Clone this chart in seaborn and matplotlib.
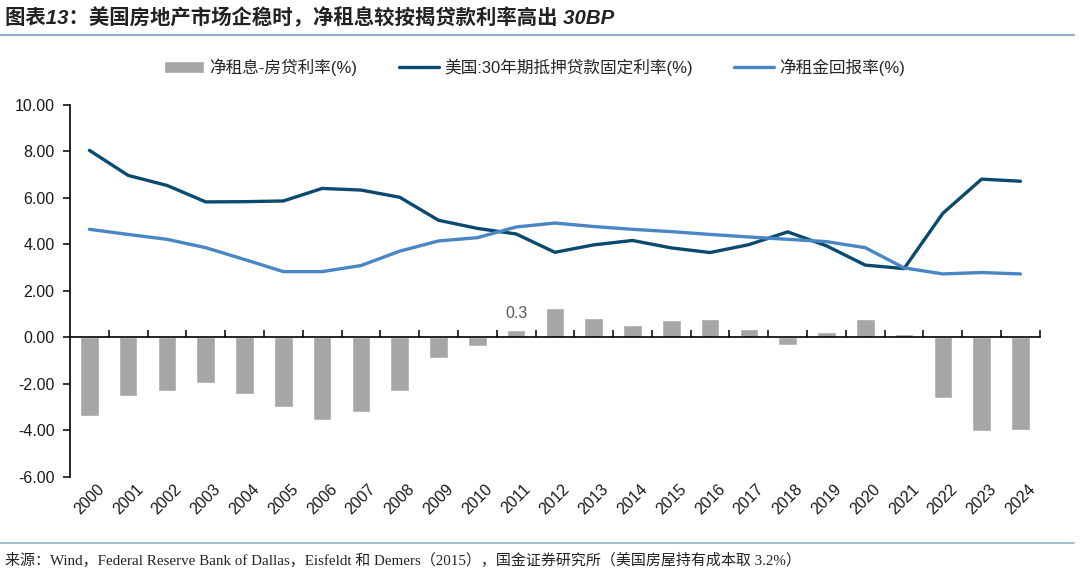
import numpy as np
import pandas as pd
import seaborn as sns
import matplotlib.pyplot as plt
from matplotlib.lines import Line2D
from matplotlib.ticker import FixedLocator, FormatStrFormatter


years = [2000, 2001, 2002, 2003, 2004, 2005, 2006, 2007, 2008, 2009, 2010, 2011, 2012,
         2013, 2014, 2015, 2016, 2017, 2018, 2019, 2020, 2021, 2022, 2023, 2024]

# 净租息-房贷利率(%)
spread = [-3.38, -2.53, -2.33, -1.95, -2.45, -3.00, -3.56, -3.22, -2.29, -0.89, -0.37, 0.30, 1.27,
          0.84, 0.54, 0.76, 0.81, 0.37, -0.34, 0.23, 0.78, 0.13, -2.59, -4.02, -3.98]

# 美国:30年期抵押贷款固定利率(%)
mortgage = [8.05, 6.97, 6.54, 5.83, 5.84, 5.87, 6.41, 6.34, 6.03, 5.04, 4.69, 4.45, 3.66,
            3.98, 4.17, 3.85, 3.65, 3.99, 4.54, 3.94, 3.11, 2.96, 5.34, 6.81, 6.72]

# 净租金回报率(%)
net_yield = [4.65, 4.43, 4.22, 3.86, 3.35, 2.83, 2.83, 3.09, 3.71, 4.15, 4.29, 4.75, 4.92,
             4.77, 4.65, 4.55, 4.43, 4.32, 4.22, 4.12, 3.86, 2.99, 2.73, 2.79, 2.73]

lbl_spread = '净租息-房贷利率(%)'
lbl_mort = '美国:30年期抵押贷款固定利率(%)'
lbl_yield = '净租金回报率(%)'

df = pd.DataFrame({'year': years, 'spread': spread, 'mortgage': mortgage, 'yield': net_yield})

sns.set_style('white')
plt.rcParams['font.family'] = ['Liberation Sans', 'Noto Sans CJK SC', 'DejaVu Sans']
plt.rcParams['axes.unicode_minus'] = False

fig = plt.figure(figsize=(10.8, 5.73), dpi=100)
ax = fig.add_axes([0.0648, 0.168, 0.898, 0.6487])

sns.barplot(data=df, x='year', y='spread', native_scale=True, width=0.48,
            color='#a6a6a6', saturation=1, label=lbl_spread, ax=ax)
sns.lineplot(data=df, x='year', y='mortgage', color='#0b4a6e', lw=2.4,
             label=lbl_mort, ax=ax)
sns.lineplot(data=df, x='year', y='yield', color='#4a86c4', lw=2.4,
             label=lbl_yield, ax=ax)

# label for 2011 bar
i11 = years.index(2011)
ax.annotate(f'{spread[i11]:.1f}', (years[i11], spread[i11]), xytext=(0, 7),
            textcoords='offset points', ha='center', va='bottom',
            fontsize=11.5, color='#595959')

ax.set_xlim(years[0] - 0.5, years[-1] + 0.5)
ax.set_ylim(-6, 10)
ax.set_yticks(np.arange(-6, 10.1, 2))
ax.yaxis.set_major_formatter(FormatStrFormatter('%.2f'))
ax.set_xlabel('')
ax.set_ylabel('')

# x axis line sits on zero, year labels at the bottom
for s in ['top', 'right']:
    ax.spines[s].set_visible(False)
ax.spines['bottom'].set_position(('data', 0))
ax.spines['bottom'].set_color('black')
ax.spines['left'].set_color('black')
ax.spines['bottom'].set_linewidth(1.2)
ax.spines['left'].set_linewidth(1.2)

ax.set_xticks(years)
ax.set_xticklabels([str(y) for y in years], rotation=45, ha='center', va='top')
ax.xaxis.set_minor_locator(FixedLocator([y + 0.5 for y in years]))
ax.tick_params(axis='x', which='major', bottom=True, length=0, pad=104,
               labelsize=11.5, labelcolor='#1a1a1a')
ax.tick_params(axis='x', which='minor', bottom=True, direction='in', length=5,
               width=1.1, color='black')
ax.tick_params(axis='y', which='major', left=True, direction='out', length=5, width=1.1,
               color='black', labelsize=11.5, labelcolor='#1a1a1a', pad=6)
ax.grid(False)

handles, labels = ax.get_legend_handles_labels()
hmap = dict(zip(labels, handles))
order = [lbl_spread, lbl_mort, lbl_yield]
ax.legend([hmap[k] for k in order], order, loc='center', bbox_to_anchor=(0.495, 0.883),
          bbox_transform=fig.transFigure, ncol=3, frameon=False, fontsize=12,
          handlelength=2.4, handletextpad=0.3, columnspacing=2.5)

# title and source
fig.text(0.005, 0.968, '图表13：美国房地产市场企稳时，净租息较按揭贷款利率高出 30BP',
         fontsize=14.7, fontweight='bold', fontstyle='italic', color='#222222',
         ha='left', va='center')
fig.add_artist(Line2D([0, 0.994], [1 - 34.5 / 573] * 2, transform=fig.transFigure,
                      color='#8fb0c2', lw=1.6))
fig.add_artist(Line2D([0, 0.994], [1 - 543 / 573] * 2, transform=fig.transFigure,
                      color='#8fb0c2', lw=1.2))
fig.text(0.005, 1 - 560 / 573,
         '来源：Wind，Federal Reserve Bank of Dallas，Eisfeldt 和 Demers（2015），国金证券研究所（美国房屋持有成本取 3.2%）',
         fontsize=10.8, family=['Liberation Serif', 'Noto Sans CJK SC'], color='#222222',
         ha='left', va='center')

fig.savefig('out.png', dpi=100)
